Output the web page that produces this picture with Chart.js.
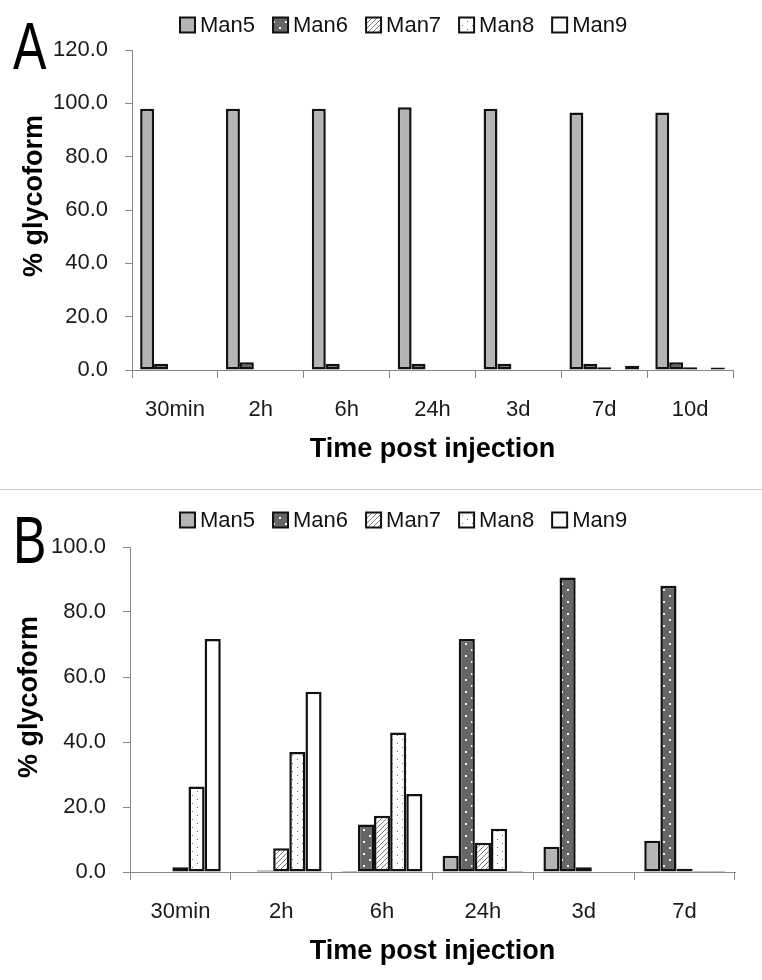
<!DOCTYPE html>
<html>
<head>
<meta charset="utf-8">
<script src="https://cdn.jsdelivr.net/npm/chart.js@4/dist/chart.umd.min.js"></script>
<style>
  html, body { margin: 0; padding: 0; background: #fff; }
  body { width: 762px; height: 980px; position: relative; overflow: hidden; }
  .panel { position: absolute; left: 0; width: 762px; height: 490px; }
  #panelA { top: 0; }
  #panelB { top: 490px; }
  .divider { position: absolute; left: 0; top: 489px; width: 762px; height: 1px; background: #c8c8c8; }
</style>
</head>
<body>
<div class="panel" id="panelA"><canvas id="chartA" width="762" height="490"></canvas></div>
<div class="divider"></div>
<div class="panel" id="panelB"><canvas id="chartB" width="762" height="490"></canvas></div>
<script>
// --- data ---
const seriesNames = ['Man5', 'Man6', 'Man7', 'Man8', 'Man9'];

// panel A
const timesA = ['30min', '2h', '6h', '24h', '3d', '7d', '10d'];
const man5A = [98.0, 98.0, 98.0, 98.5, 98.0, 96.6, 96.6];
const man6A = [2.3, 2.9, 2.3, 2.3, 2.3, 2.3, 2.9];
const man7A = [0, 0, 0, 0, 0, 1.0, 1.0];
const man8A = [0, 0, 0, 0, 0, 0, 0];
const man9A = [0, 0, 0, 0, 0, 1.6, 0.9];
const ticksA = [0, 20, 40, 60, 80, 100, 120];

// panel B
const timesB = ['30min', '2h', '6h', '24h', '3d', '7d'];
const man5B = [0, 0, 0.3, 5.0, 7.8, 9.6];
const man6B = [0, 0.5, 14.6, 71.7, 90.6, 88.1];
const man7B = [1.5, 7.3, 17.3, 9.0, 1.5, 1.0];
const man8B = [26.3, 36.9, 42.9, 13.3, 0, 0.3];
const man9B = [71.7, 55.5, 24.0, 0.3, 0, 0.3];
const ticksB = [0, 20, 40, 60, 80, 100];

const FONT = '"Liberation Sans", Arial, sans-serif';

(function(){
  const qs = (sel) => document.querySelector(sel);

  function tile(w, h, bg, draw) {
    const c = document.createElement('canvas');
    c.width = w; c.height = h;
    const g = c.getContext('2d');
    g.fillStyle = bg; g.fillRect(0, 0, w, h);
    if (draw) draw(g);
    return g.createPattern(c, 'repeat');
  }

  const fills = [
    '#b4b4b4',
    tile(12, 12, '#666666', g => { g.fillStyle = '#f4f4f4'; g.fillRect(3, 3, 2, 2); g.fillRect(9, 9, 2, 2); }),
    tile(5, 5, '#ffffff', g => {
      g.strokeStyle = '#7a7a7a'; g.lineWidth = 1;
      g.beginPath();
      g.moveTo(0, 5); g.lineTo(5, 0);
      g.moveTo(-1, 1); g.lineTo(1, -1);
      g.moveTo(4, 6); g.lineTo(6, 4);
      g.stroke();
    }),
    tile(10, 8, '#ffffff', g => { g.fillStyle = '#6a6a6a'; g.fillRect(2, 1, 1, 1); g.fillRect(7, 5, 1, 1); }),
    '#ffffff'
  ];

  // legend row, panel letter and y title
  const decor = {
    id: 'decor',
    afterDraw(chart, args, o) {
      const ctx = chart.ctx;
      ctx.save();
      // legend
      ctx.font = `22px ${FONT}`;
      ctx.textBaseline = 'middle';
      ctx.textAlign = 'left';
      let x = o.legendX;
      chart.data.datasets.forEach(ds => {
        ctx.fillStyle = ds.backgroundColor;
        ctx.fillRect(x, o.legendY - 7.5, 15, 15);
        ctx.strokeStyle = '#111'; ctx.lineWidth = 2;
        ctx.strokeRect(x, o.legendY - 7.5, 15, 15);
        ctx.fillStyle = '#111';
        ctx.fillText(ds.label, x + 20, o.legendY + 1);
        x += 20 + ctx.measureText(ds.label).width + 18;
      });
      // panel letter
      ctx.save();
      ctx.translate(o.letterX, o.letterY);
      ctx.scale(0.76, 1);
      ctx.font = `66px ${FONT}`;
      ctx.textBaseline = 'alphabetic';
      ctx.fillStyle = '#000';
      ctx.fillText(o.letter, 0, 0);
      ctx.restore();
      // y title
      ctx.translate(o.yTitleX, o.yTitleY);
      ctx.rotate(-Math.PI / 2);
      ctx.font = `bold 27px ${FONT}`;
      ctx.textAlign = 'center';
      ctx.fillStyle = '#000';
      ctx.fillText('% glycoform', 0, 0);
      ctx.restore();
    }
  };

  function makeChart(id, labels, series, yTicks, geo) {
    const yMax = yTicks[yTicks.length - 1];
    return new Chart(qs(id), {
      type: 'bar',
      data: {
        labels,
        datasets: series.map((vals, i) => ({
          label: seriesNames[i],
          data: vals,
          backgroundColor: fills[i],
          borderColor: '#111',
          borderWidth: 2.5,
          borderSkipped: false,
          categoryPercentage: geo.catPct,
          barPercentage: 1
        }))
      },
      options: {
        responsive: false,
        animation: false,
        devicePixelRatio: 1,
        layout: { padding: { left: 0, right: geo.padRight, top: geo.padTop, bottom: geo.padBottom } },
        plugins: {
          legend: { display: false },
          tooltip: { enabled: false },
          decor: geo.decor
        },
        scales: {
          x: {
            grid: { drawOnChartArea: false, drawTicks: true, tickLength: 8, color: '#888', offset: true },
            border: { color: '#888', width: 1 },
            ticks: { color: '#1a1a1a', font: { size: 22, family: FONT }, padding: 19, maxRotation: 0, autoSkip: false },
            title: { display: true, text: 'Time post injection', color: '#000',
                     font: { size: 27, weight: 'bold', family: FONT }, padding: { top: 4, bottom: 4 } },
            afterFit: s => { s.height = geo.xHeight; }
          },
          y: {
            min: 0, max: yMax,
            grid: { drawOnChartArea: false, drawTicks: true, tickLength: 7, color: '#888' },
            border: { color: '#888', width: 1 },
            afterBuildTicks: s => { s.ticks = yTicks.map(v => ({ value: v })); },
            ticks: { color: '#1a1a1a', font: { size: 22, family: FONT }, padding: 17,
                     callback: v => Number(v).toFixed(1) },
            afterFit: s => { s.width = geo.yWidth; }
          }
        }
      },
      plugins: [decor]
    });
  }

  document.addEventListener('DOMContentLoaded', () => {
    makeChart('#chartA', timesA, [man5A, man6A, man7A, man8A, man9A], ticksA, {
      catPct: 0.81, padRight: 29, padTop: 50, padBottom: 20, xHeight: 100, yWidth: 132,
      decor: { legendX: 180, legendY: 25, letter: 'A', letterX: 13, letterY: 69, yTitleX: 35, yTitleY: 196 }
    });
    makeChart('#chartB', timesB, [man5B, man6B, man7B, man8B, man9B], ticksB, {
      catPct: 0.8, padRight: 27, padTop: 57, padBottom: 8, xHeight: 100, yWidth: 130,
      decor: { legendX: 180, legendY: 30, letter: 'B', letterX: 13, letterY: 73, yTitleX: 30, yTitleY: 207 }
    });
  });
})();
</script>
</body>
</html>
